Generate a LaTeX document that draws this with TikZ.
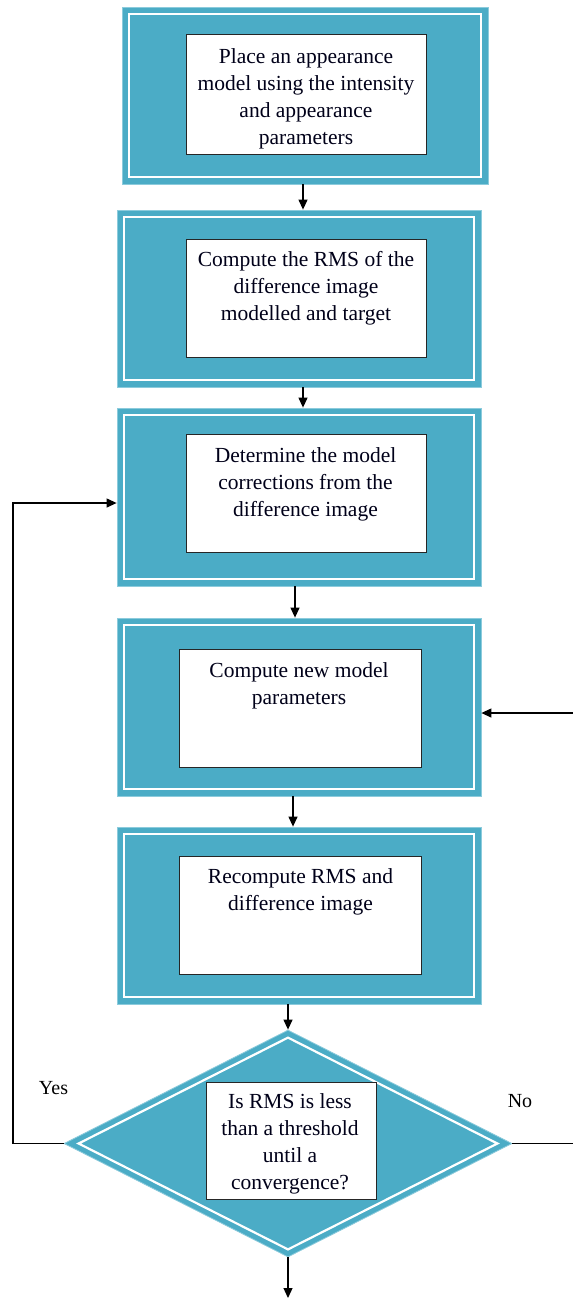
\documentclass[tikz,border=0pt]{standalone}
\usepackage{fontspec}
\setmainfont{Liberation Serif}
\usetikzlibrary{arrows.meta,shapes.geometric,calc}
\definecolor{tealfill}{HTML}{4BACC6}
\definecolor{tealedge}{HTML}{8CCBDC}
\begin{document}
\begin{tikzpicture}[x=1pt,y=-1pt,
  outerbox/.style={rectangle, draw=tealedge, line width=0.8pt, fill=tealfill, inner sep=0pt,
    path picture={\draw[white, line width=2.2pt]
      ([shift={(7pt,-7pt)}]path picture bounding box.north west) rectangle
      ([shift={(-7pt,7pt)}]path picture bounding box.south east);}},
  innerbox/.style={rectangle, draw=black!85, line width=1pt, fill=white, inner sep=0pt},
  txt/.style={anchor=north, align=center, inner sep=0pt, text=black!90!blue,
    font=\fontsize{21.5}{27}\selectfont},
  lbl/.style={anchor=base, inner sep=0pt, font=\fontsize{20}{24}\selectfont},
  arr/.style={-{Triangle[length=10pt,width=9pt]}, line width=1.2pt},
  conn/.style={line width=1.2pt}]
\useasboundingbox (0,0) rectangle (573,1299);

% box 1
\node[outerbox, minimum width=366pt, minimum height=177pt] (b1) at (305,95.5) {};
\node[innerbox, minimum width=240pt, minimum height=120pt] (i1) at (306,94) {};
\node[txt] (t1) at (306,44.1) {\strut Place an appearance\\model using the intensity\\and appearance\\parameters};

% box 2
\node[outerbox, minimum width=364pt, minimum height=177pt] (b2) at (299,298.5) {};
\node[innerbox, minimum width=240pt, minimum height=118pt] (i2) at (306,298) {};
\node[txt] (t2) at (306,247.5) {\strut Compute the RMS of the\\difference image\\modelled and target};

% box 3
\node[outerbox, minimum width=364pt, minimum height=178pt] (b3) at (299,497) {};
\node[innerbox, minimum width=240pt, minimum height=118pt] (i3) at (306,493) {};
\node[txt] (t3) at (305.5,443.3) {\strut Determine the model\\corrections from the\\difference image};

% box 4
\node[outerbox, minimum width=364pt, minimum height=178pt] (b4) at (299,707) {};
\node[innerbox, minimum width=242pt, minimum height=118pt] (i4) at (300,708) {};
\node[txt] (t4) at (299,658.3) {\strut Compute new model\\parameters};

% box 5
\node[outerbox, minimum width=364pt, minimum height=177pt] (b5) at (299,915.5) {};
\node[innerbox, minimum width=242pt, minimum height=118pt] (i5) at (300,915) {};
\node[txt] (t5) at (300.5,864.3) {\strut Recompute RMS and\\difference image};

% decision
\node[diamond, draw=tealedge, line width=0.8pt, fill=tealfill, inner sep=0pt,
      minimum width=448pt, minimum height=227pt] (d) at (288,1143.5) {};
\draw[white, line width=2.2pt] ($(d.north)+(0,8)$) -- ($(d.east)+(-15,0)$)
  -- ($(d.south)+(0,-8)$) -- ($(d.west)+(15,0)$) -- cycle;
\node[innerbox, minimum width=170pt, minimum height=117pt] (i6) at (291,1140.5) {};
\node[txt] (t6) at (290,1089.1) {\strut Is RMS is less\\than a threshold\\until a\\convergence?};

\node[lbl] (yes) at (53.5,1094) {Yes};
\node[lbl] (no) at (520,1107) {No};

% helper coordinates
\coordinate (x1) at (303,0);
\coordinate (x3) at (295,0);
\coordinate (x4) at (293,0);
\coordinate (dend) at (288,1298);
\coordinate (ly) at (13,503);
\coordinate (ry) at (580,713);

% connectors
\draw[arr] (b1.south -| x1) -- (b2.north -| x1);
\draw[arr] (b2.south -| x1) -- (b3.north -| x1);
\draw[arr] (b3.south -| x3) -- (b4.north -| x3);
\draw[arr] (b4.south -| x4) -- (b5.north -| x4);
\draw[arr] (b5.south -| d.north) -- (d.north);
\draw[arr] (d.south) -- (dend);
\draw[arr] (d.west) -| (ly) -- (ly -| b3.west);
\draw[arr] (d.east) -| (ry) -- (ry -| b4.east);
\end{tikzpicture}
\end{document}
